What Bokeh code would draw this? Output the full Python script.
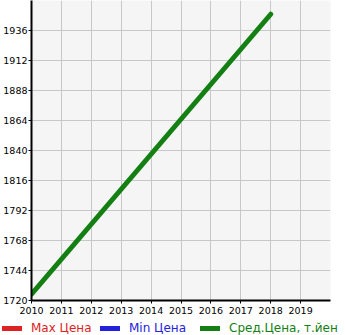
from bokeh.plotting import figure
from bokeh.models import Range1d, FixedTicker, Legend, LegendItem
from bokeh.embed import file_html
from bokeh.resources import INLINE

nan = float("nan")
years = [2010, 2018]
avg_price = [1725, 1949]
max_price = [nan, nan]   # no data shown in the reference
min_price = [nan, nan]   # no data shown in the reference
x_ticks = list(range(2010, 2020))
y_ticks = list(range(1720, 1937, 24))
legend_labels = ["Max Цена", "Min Цена", "Сред.Цена, т.йен"]
legend_colors = ["#dd2222", "#2222dd", "#148014"]

p = figure(width=345, height=318, output_backend="svg", toolbar_location=None,
           x_range=Range1d(2010, 2020), y_range=Range1d(1720, 1960),
           min_border_left=30, min_border_right=15, min_border_top=0, min_border_bottom=18)
p.background_fill_color = "#f5f5f5"
p.border_fill_color = "white"
p.outline_line_color = None

for ax in (p.xaxis[0], p.yaxis[0]):
    ax.axis_line_color = "black"
    ax.axis_line_width = 2
    ax.major_tick_line_color = "black"
    ax.major_tick_in = 0
    ax.major_tick_out = 3
    ax.minor_tick_line_color = None
    ax.major_label_text_font = "DejaVu Sans"
    ax.major_label_text_font_size = "9.5px"
    ax.major_label_text_color = "black"
p.xaxis.ticker = FixedTicker(ticks=x_ticks)
p.yaxis.ticker = FixedTicker(ticks=y_ticks)
p.yaxis.major_label_standoff = 1
p.xaxis.major_label_standoff = 3

p.grid.grid_line_color = "#c8c8c8"
p.grid.grid_line_width = 1
p.xgrid.ticker = FixedTicker(ticks=x_ticks + [2020])
p.ygrid.ticker = FixedTicker(ticks=y_ticks + [1960])

p.line(years, max_price, line_color=legend_colors[0], line_width=5, line_cap="round")
p.line(years, min_price, line_color=legend_colors[1], line_width=5, line_cap="round")
p.line(years, avg_price, line_color=legend_colors[2], line_width=5, line_cap="round")

# legend strip
lf = figure(width=345, height=17, output_backend="svg", toolbar_location=None,
            x_range=Range1d(0, 1), y_range=Range1d(0, 1),
            min_border_left=0, min_border_right=0, min_border_top=0, min_border_bottom=0)
lf.axis.visible = False
lf.grid.visible = False
lf.outline_line_color = None
lf.background_fill_color = "white"

series = [max_price, min_price, avg_price]
offsets = [2, 100, 200]
for lbl, col, off, s in zip(legend_labels, legend_colors, offsets, series):
    r = lf.line(years, [nan for _ in s], line_color=col, line_width=5, line_cap="round")
    lg = Legend(items=[LegendItem(label=lbl, renderers=[r])], location=(off, 0),
                label_text_color=col, label_text_font="DejaVu Sans",
                label_text_font_size="12px", glyph_width=20, glyph_height=14,
                label_height=14, padding=0, margin=0, spacing=0, label_standoff=9,
                background_fill_alpha=0, border_line_color=None)
    lf.add_layout(lg, "center")

open("out.html", "w").write(file_html([p, lf], INLINE))
